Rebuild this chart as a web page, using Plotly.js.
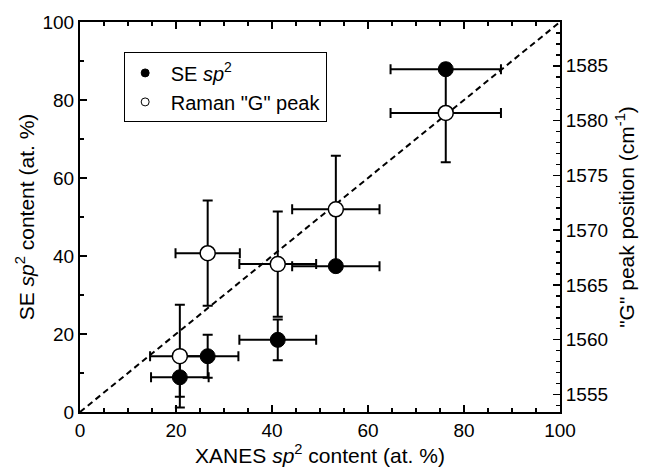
<!DOCTYPE html>
<html>
<head>
<meta charset="utf-8">
<script src="https://cdn.plot.ly/plotly-3.0.1.min.js"></script>
<style>html,body{margin:0;padding:0;background:#fff;}#chart{width:645px;height:468px;}</style>
</head>
<body>
<div id="chart"></div>
<script>
// XANES sp2 content (at. %) for each sample
const xanes = [20.8, 26.6, 41.2, 53.3, 76.2];
const xanesErr = [6.0, 6.4, 8.0, 9.1, 11.5];
// SE sp2 content (at. %) - left axis
const seSp2 = [8.9, 14.3, 18.5, 37.4, 87.9];
const seSp2Err = [5.0, 5.5, 5.2, 0, 0];
// Raman "G" peak position (cm-1) - right axis
const ramanG = [1558.5, 1567.9, 1566.9, 1571.9, 1580.7];
const ramanGErr = [4.7, 4.8, 4.8, 4.9, 4.5];
const ramanXErr = [6.2, 6.7, 8.0, 9.1, 11.5];
// 1:1 reference line
const diagX = [0, 100];
const diagY = [0, 100];
// legend labels
const legendNames = ['\u00A0SE <i>sp</i><sup>2</sup>', '\u00A0Raman "G" peak'];

const font = 'Liberation Sans, Arial, sans-serif';

const traces = [
  {x: diagX, y: diagY, mode: 'lines', line: {color: '#000', width: 2, dash: '6px,4px'},
   showlegend: false, hoverinfo: 'skip'},
  {x: xanes, y: seSp2, mode: 'markers', showlegend: false,
   marker: {symbol: 'circle', size: 15, color: '#000', line: {color: '#000', width: 1}},
   error_x: {type: 'data', array: xanesErr, visible: true, color: '#000', thickness: 2, width: 5},
   error_y: {type: 'data', array: seSp2Err, visible: true, color: '#000', thickness: 2, width: 5}},
  {x: xanes, y: ramanG, yaxis: 'y2', mode: 'markers', showlegend: false,
   marker: {symbol: 'circle', size: 15, color: '#fff', line: {color: '#000', width: 1.5}},
   error_x: {type: 'data', array: ramanXErr, visible: true, color: '#000', thickness: 2, width: 5},
   error_y: {type: 'data', array: ramanGErr, visible: true, color: '#000', thickness: 2, width: 5}},
  {x: [null], y: [null], mode: 'markers', name: legendNames[0],
   marker: {symbol: 'circle', size: 8, color: '#000', line: {color: '#000', width: 1}}},
  {x: [null], y: [null], mode: 'markers', name: legendNames[1],
   marker: {symbol: 'circle', size: 8, color: '#fff', line: {color: '#000', width: 1}}}
];

const axCommon = {
  showgrid: false, zeroline: false, showline: true, linecolor: '#000', linewidth: 2,
  ticks: 'inside', ticklen: 7, tickwidth: 1.5, tickcolor: '#000',
  tickfont: {family: font, size: 19, color: '#000'}
};

const layout = {
  width: 645, height: 468,
  margin: {l: 80, r: 85, t: 22, b: 56},
  paper_bgcolor: '#fff', plot_bgcolor: '#fff',
  font: {family: font, color: '#000'},
  xaxis: Object.assign({}, axCommon, {
    range: [0, 100], tick0: 0, dtick: 20, mirror: 'ticks',
    minor: {dtick: 5, ticks: 'inside', ticklen: 4, tickwidth: 1.5, tickcolor: '#000'},
    title: {text: 'XANES <i>sp</i><sup>2</sup> content (at. %)', font: {family: font, size: 21}, standoff: 3}
  }),
  yaxis: Object.assign({}, axCommon, {
    range: [0, 100], tick0: 0, dtick: 20,
    minor: {dtick: 10, ticks: 'inside', ticklen: 4, tickwidth: 1.5, tickcolor: '#000'},
    title: {text: 'SE <i>sp</i><sup>2</sup> content (at. %)', font: {family: font, size: 21}, standoff: 2}
  }),
  yaxis2: Object.assign({}, axCommon, {
    overlaying: 'y', side: 'right', range: [1553.4, 1589.0], tick0: 1555, dtick: 5,
    minor: {dtick: 1, ticks: 'inside', ticklen: 4, tickwidth: 1.5, tickcolor: '#000'},
    title: {text: '"G" peak position (cm<sup>-1</sup>)', font: {family: font, size: 21}, standoff: 12}
  }),
  legend: {x: 0.092, y: 0.922, xanchor: 'left', yanchor: 'top', bgcolor: '#fff',
    bordercolor: '#000', borderwidth: 1, font: {family: font, size: 20, color: '#000'}}
};

Plotly.newPlot('chart', traces, layout, {staticPlot: true, displayModeBar: false});
</script>
</body>
</html>
